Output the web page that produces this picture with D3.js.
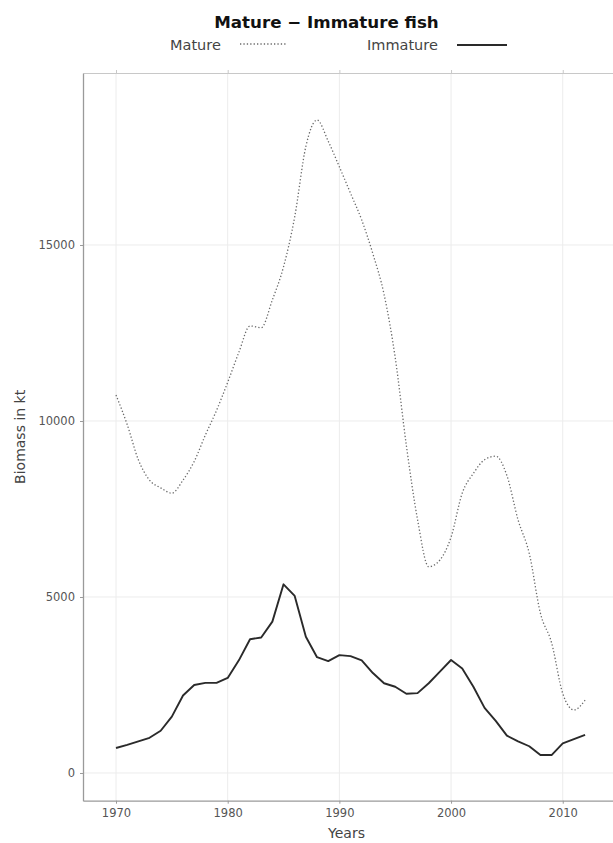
<!DOCTYPE html>
<html>
<head>
<meta charset="utf-8">
<script src="https://cdn.jsdelivr.net/npm/d3@7"></script>
<style>
  html, body { margin: 0; padding: 0; background: #fff; }
  svg { display: block; }
  text { font-family: "DejaVu Sans", sans-serif; }
</style>
</head>
<body>
<svg id="chart" width="613" height="843"></svg>
<script>
const years = d3.range(1970, 2013);
const mature = [10740, 9900, 8900, 8320, 8100, 7950, 8320, 8850, 9600, 10300,
  11100, 11950, 12700, 12650, 13440, 14380, 15800, 17800, 18550, 17950,
  17220, 16470, 15710, 14750, 13600, 11800, 9300, 7200, 5860, 6050,
  6700, 7950, 8510, 8900, 9000, 8450, 7190, 6240, 4540, 3700,
  2260, 1790, 2070];
const immature = [710, 800, 900, 1000, 1200, 1600, 2200, 2500, 2560, 2560,
  2700, 3200, 3800, 3850, 4300, 5360, 5030, 3870, 3290, 3180,
  3350, 3320, 3200, 2840, 2550, 2450, 2250, 2270, 2550, 2880,
  3210, 2970, 2450, 1850, 1480, 1060, 900, 760, 510, 510,
  840, 960, 1080];
const xTicks = [1970, 1980, 1990, 2000, 2010];
const yTicks = [0, 5000, 10000, 15000];
const seriesNames = ["Mature", "Immature"];
const titleText = "Mature \u2212 Immature fish";
const xTitle = "Years";
const yTitle = "Biomass in kt";

const svg = d3.select("#chart");
const L = 83, R = 613, T = 73, B = 800.7;

const x = d3.scaleLinear().domain([1967.045, 2014.5]).range([L, R]);
const y = d3.scaleLinear().domain([-787, 19886]).range([B, T]);

// grid
const grid = svg.append("g");
grid.selectAll("line.v").data(xTicks).join("line")
  .attr("x1", d => x(d)).attr("x2", d => x(d))
  .attr("y1", T).attr("y2", B)
  .attr("stroke", "#ececec").attr("stroke-width", 1);
grid.selectAll("line.h").data(yTicks).join("line")
  .attr("x1", L).attr("x2", R)
  .attr("y1", d => y(d)).attr("y2", d => y(d))
  .attr("stroke", "#ececec").attr("stroke-width", 1);

// axes
const axisColor = "#9a9a9a";
const xAxis = svg.append("g").attr("transform", `translate(0,${B})`)
  .call(d3.axisBottom(x).tickValues(xTicks).tickFormat(d3.format("d")).tickSize(3).tickSizeOuter(0).tickPadding(5));
const xTop = svg.append("g").attr("transform", `translate(0,${T})`)
  .call(d3.axisTop(x).tickValues(xTicks).tickFormat("").tickSize(3).tickSizeOuter(0));
const yAxis = svg.append("g").attr("transform", `translate(${L},0)`)
  .call(d3.axisLeft(y).tickValues(yTicks).tickFormat(d3.format("d")).tickSize(3).tickSizeOuter(0).tickPadding(5));

[xAxis, xTop, yAxis].forEach(g => {
  g.select(".domain").attr("stroke", axisColor).attr("stroke-width", 1.3);
  g.selectAll(".tick line").attr("stroke", axisColor);
  g.selectAll(".tick text").attr("fill", "#555").attr("font-size", 11.5)
    .attr("font-family", "DejaVu Sans, sans-serif");
});
xTop.select(".domain").attr("stroke", "#c8c8c8").attr("stroke-width", 1);
xTop.selectAll(".tick line").attr("stroke", "#c8c8c8");

// lines
svg.append("path").datum(mature)
  .attr("d", d3.line().x((d, i) => x(years[i])).y(d => y(d)).curve(d3.curveMonotoneX))
  .attr("fill", "none").attr("stroke", "#6a6a6a")
  .attr("stroke-width", 1.3).attr("stroke-dasharray", "1.3,2.1");
svg.append("path").datum(immature)
  .attr("d", d3.line().x((d, i) => x(years[i])).y(d => y(d)))
  .attr("fill", "none").attr("stroke", "#2a2a2a")
  .attr("stroke-width", 1.9).attr("stroke-linejoin", "round");

// title
svg.append("text").attr("x", 326.5).attr("y", 28)
  .attr("text-anchor", "middle").attr("font-weight", "bold")
  .attr("font-size", 16.7).attr("fill", "#111").text(titleText);

// legend
const leg = svg.append("g");
leg.append("text").attr("x", 170).attr("y", 50).attr("font-size", 14.5)
  .attr("fill", "#444").text(seriesNames[0]);
leg.append("line").attr("x1", 240).attr("x2", 287).attr("y1", 44).attr("y2", 44)
  .attr("stroke", "#6a6a6a").attr("stroke-width", 1.3).attr("stroke-dasharray", "1.3,2.1");
leg.append("text").attr("x", 367).attr("y", 50).attr("font-size", 14.5)
  .attr("fill", "#444").text(seriesNames[1]);
leg.append("line").attr("x1", 457).attr("x2", 507).attr("y1", 45).attr("y2", 45)
  .attr("stroke", "#2a2a2a").attr("stroke-width", 2);

// axis titles
svg.append("text").attr("x", 346.5).attr("y", 838)
  .attr("text-anchor", "middle").attr("font-size", 14).attr("fill", "#444").text(xTitle);
svg.append("text").attr("transform", `translate(25,${(T + B) / 2}) rotate(-90)`)
  .attr("text-anchor", "middle").attr("font-size", 14).attr("fill", "#444").text(yTitle);
</script>
</body>
</html>
